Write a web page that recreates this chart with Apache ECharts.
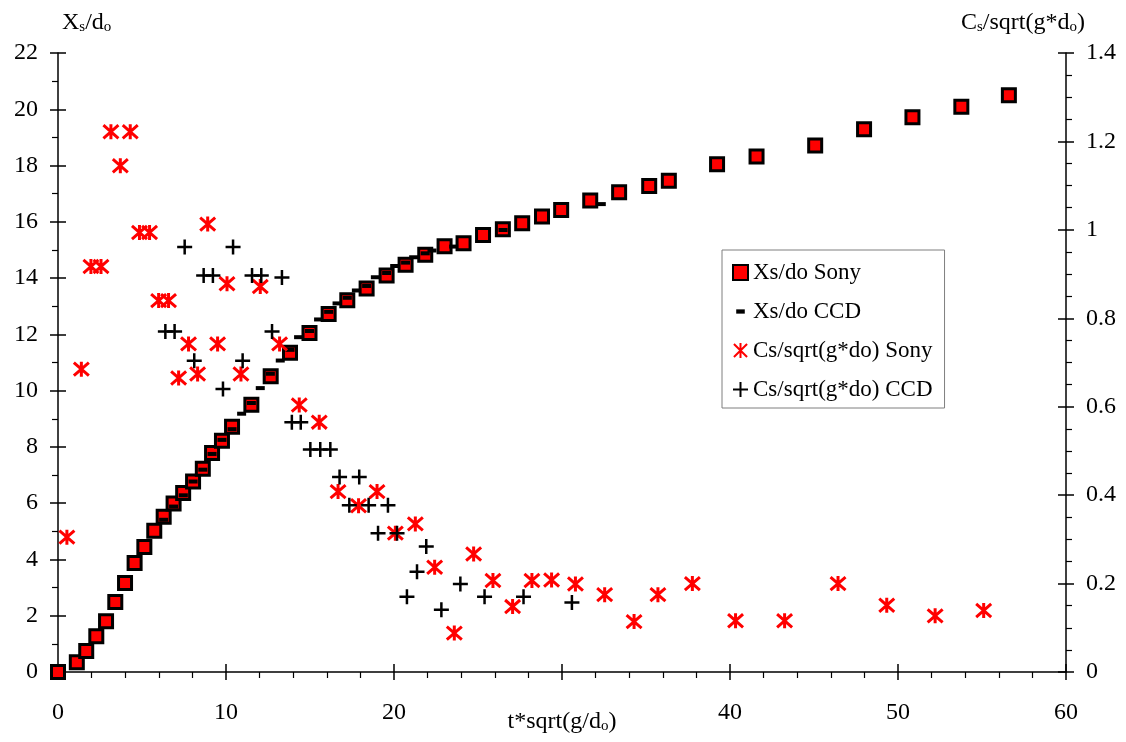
<!DOCTYPE html>
<html>
<head>
<meta charset="utf-8">
<script src="https://cdn.jsdelivr.net/npm/echarts@6/dist/echarts.min.js"></script>
<style>
html,body{margin:0;padding:0;background:#fff;}
#chart{width:1126px;height:742px;}
</style>
</head>
<body>
<div id="chart"></div>
<script>
// ---- data ----
const xsSonyT = [0, 1.12, 1.68, 2.28, 2.86, 3.41, 3.99, 4.56, 5.14, 5.73, 6.29, 6.88, 7.45, 8.04, 8.62, 9.17, 9.76, 10.36, 11.51, 12.66, 13.81, 14.97, 16.11, 17.22, 18.37, 19.56, 20.69, 21.86, 23.01, 24.14, 25.3, 26.48, 27.63, 28.81, 29.95, 31.68, 33.4, 35.19, 36.36, 39.23, 41.58, 45.07, 47.98, 50.86, 53.77, 56.6];
const xsSonyV = [0, 0.35, 0.75, 1.27, 1.8, 2.49, 3.16, 3.87, 4.44, 5.02, 5.52, 5.99, 6.36, 6.77, 7.22, 7.78, 8.22, 8.72, 9.5, 10.51, 11.35, 12.05, 12.72, 13.21, 13.63, 14.09, 14.47, 14.83, 15.13, 15.24, 15.53, 15.74, 15.95, 16.19, 16.42, 16.76, 17.05, 17.27, 17.46, 18.05, 18.32, 18.71, 19.29, 19.72, 20.09, 20.5];

const xsCcdT = [6.29, 6.88, 7.46, 8.04, 8.62, 9.17, 9.76, 10.36, 10.93, 11.51, 12.04, 12.64, 13.23, 13.81, 14.32, 14.97, 15.51, 16.11, 16.61, 17.22, 17.76, 18.37, 18.89, 19.56, 20.04, 20.69, 21.17, 21.86, 22.26, 23.55, 26.49, 32.34];
const xsCcdV = [5.41, 5.88, 6.28, 6.77, 7.19, 7.75, 8.25, 8.63, 9.18, 9.56, 10.09, 10.6, 11.07, 11.45, 11.9, 12.12, 12.53, 12.8, 13.1, 13.3, 13.56, 13.72, 14.03, 14.18, 14.43, 14.55, 14.74, 14.88, 14.98, 15.12, 15.71, 16.63];

const csSonyT = [0.53, 1.39, 1.96, 2.56, 3.15, 3.71, 4.30, 4.85, 5.45, 5.99, 6.58, 7.18, 7.77, 8.31, 8.91, 9.50, 10.06, 10.89, 12.04, 13.19, 14.36, 15.55, 16.67, 17.89, 18.99, 20.08, 21.27, 22.42, 23.59, 24.74, 25.89, 27.06, 28.21, 29.38, 30.8, 32.54, 34.29, 35.71, 37.76, 40.33, 43.25, 46.43, 49.33, 52.21, 55.1];
const csSonyV = [0.305, 0.685, 0.917, 0.917, 1.222, 1.145, 1.222, 0.994, 0.994, 0.840, 0.840, 0.665, 0.742, 0.674, 1.013, 0.742, 0.878, 0.674, 0.872, 0.742, 0.604, 0.565, 0.408, 0.376, 0.408, 0.314, 0.335, 0.237, 0.088, 0.267, 0.207, 0.148, 0.207, 0.208, 0.199, 0.175, 0.114, 0.175, 0.200, 0.116, 0.116, 0.200, 0.151, 0.127, 0.139];

const csCcdT = [6.39, 6.94, 7.54, 8.11, 8.67, 9.22, 9.82, 10.42, 10.99, 11.55, 12.10, 12.74, 13.33, 13.92, 14.45, 15.02, 15.61, 16.21, 16.76, 17.34, 17.93, 18.49, 19.05, 19.64, 20.18, 20.77, 21.37, 21.92, 22.82, 23.95, 25.39, 27.71, 30.59];
const csCcdV = [0.770, 0.770, 0.961, 0.704, 0.897, 0.897, 0.640, 0.961, 0.704, 0.897, 0.897, 0.770, 0.892, 0.565, 0.565, 0.503, 0.503, 0.503, 0.441, 0.377, 0.441, 0.377, 0.314, 0.377, 0.314, 0.170, 0.227, 0.284, 0.141, 0.199, 0.170, 0.170, 0.157];

const seriesNames = ['Xs/do Sony', 'Xs/do CCD', 'Cs/sqrt(g*do) Sony', 'Cs/sqrt(g*do) CCD'];
const xAxisTitle = '{n|t*sqrt(g/d}{s|o}{n|)}';
const yLeftTitle = '{n|X}{s|s}{n|/d}{s|o}';
const yRightTitle = '{n|C}{s|s}{n|/sqrt(g*d}{s|o}{n|)}';
const xRange = [0, 60, 10];
const xHiddenLabels = [30]; // covered by the axis title in the reference
const yLeftRange = [0, 22, 2];
const yRightRange = [0, 1.4, 0.2];

// ---- chart ----
const FONT = "'Liberation Serif', 'Times New Roman', serif";
const zip = (a, b) => a.map((v, i) => [v, b[i]]);
const richTitle = {
  n: { fontSize: 24, fontFamily: FONT, color: '#000', lineHeight: 24, verticalAlign: 'bottom' },
  s: { fontSize: 15, fontFamily: FONT, color: '#000', lineHeight: 10, verticalAlign: 'bottom' }
};
const ASTERISK = 'path://M0,0L14,14M14,0L0,14M7,-1L7,15';
const PLUS = 'path://M0,7L14,7M7,0L7,14';
const DASH_ICON = 'path://M0,0M14,14M3,5L11,5L11,9L3,9Z';

const lineStyle = { color: '#000', width: 1.5 };

function overlayAxis(base, pos) {
  return {
    type: 'value', position: pos, min: base[0], max: base[1], interval: base[2],
    axisLine: { show: false, onZero: false },
    axisTick: { show: true, inside: true, length: 8, lineStyle: lineStyle },
    minorTick: { show: false },
    axisLabel: { show: false },
    splitLine: { show: false }
  };
}

const chart = echarts.init(document.getElementById('chart'), null, { renderer: 'canvas' });
chart.setOption({
  backgroundColor: '#fff',
  animation: false,
  grid: { left: 58, right: 60, top: 53, bottom: 70, containLabel: false, outerBoundsMode: 'none' },
  legend: {
    orient: 'vertical',
    left: 722, top: 250,
    backgroundColor: '#fff',
    borderColor: '#7f7f7f', borderWidth: 1,
    padding: [10, 12, 6, 10],
    itemGap: 14, itemWidth: 15, itemHeight: 15,
    textStyle: { fontFamily: FONT, fontSize: 23, color: '#000', lineHeight: 25 },
    data: [
      { name: seriesNames[0], icon: 'rect' },
      { name: seriesNames[1], icon: DASH_ICON },
      { name: seriesNames[2], icon: ASTERISK },
      { name: seriesNames[3], icon: PLUS }
    ]
  },
  xAxis: [
    {
      type: 'value', position: 'bottom', min: xRange[0], max: xRange[1], interval: xRange[2],
      axisLine: { show: true, onZero: false, lineStyle: lineStyle },
      axisTick: { show: true, inside: false, length: 8, lineStyle: lineStyle },
      minorTick: { show: true, splitNumber: 5, length: 6, lineStyle: { color: '#000', width: 1.2 } },
      splitLine: { show: false },
      axisLabel: {
        fontFamily: FONT, fontSize: 24, color: '#000', margin: 29,
        formatter: v => (xHiddenLabels.indexOf(v) >= 0 ? '' : String(v))
      },
      name: xAxisTitle, nameLocation: 'middle', nameGap: 33, nameMoveOverlap: false,
      nameTextStyle: { rich: richTitle, padding: [5, 4, 2, 4] }
    },
    overlayAxis(xRange, 'bottom')
  ],
  yAxis: [
    {
      type: 'value', position: 'left', min: yLeftRange[0], max: yLeftRange[1], interval: yLeftRange[2],
      axisLine: { show: true, onZero: false, lineStyle: lineStyle },
      axisTick: { show: true, inside: false, length: 8, lineStyle: lineStyle },
      minorTick: { show: true, splitNumber: 2, length: 6, lineStyle: { color: '#000', width: 1.2 } },
      splitLine: { show: false },
      axisLabel: { fontFamily: FONT, fontSize: 24, color: '#000', margin: 20 },
      name: yLeftTitle, nameLocation: 'end', nameGap: 18, nameMoveOverlap: false,
      nameTextStyle: { rich: richTitle, align: 'left', verticalAlign: 'bottom', padding: [0, 0, 0, 4] }
    },
    {
      type: 'value', position: 'right', min: yRightRange[0], max: yRightRange[1], interval: yRightRange[2],
      axisLine: { show: true, onZero: false, lineStyle: lineStyle },
      axisTick: { show: true, inside: false, length: 8, lineStyle: lineStyle },
      minorTick: { show: true, splitNumber: 4, length: 6, lineStyle: { color: '#000', width: 1.2 } },
      splitLine: { show: false },
      axisLabel: { fontFamily: FONT, fontSize: 24, color: '#000', margin: 20 },
      name: yRightTitle, nameLocation: 'end', nameGap: 18, nameMoveOverlap: false,
      nameTextStyle: { rich: richTitle, align: 'right', verticalAlign: 'bottom', padding: [0, -19, 0, 0] }
    },
    overlayAxis(yLeftRange, 'left'),
    overlayAxis(yRightRange, 'right')
  ],
  series: [
    {
      name: seriesNames[0], type: 'scatter', xAxisIndex: 0, yAxisIndex: 0,
      symbol: 'rect', symbolSize: 13,
      itemStyle: { color: '#ff0000', borderColor: '#000', borderWidth: 3, opacity: 1 },
      data: zip(xsSonyT, xsSonyV), z: 2
    },
    {
      name: seriesNames[1], type: 'scatter', xAxisIndex: 0, yAxisIndex: 0,
      symbol: 'rect', symbolSize: [9, 4],
      itemStyle: { color: '#000', opacity: 1 },
      data: zip(xsCcdT, xsCcdV), z: 3
    },
    {
      name: seriesNames[2], type: 'scatter', xAxisIndex: 0, yAxisIndex: 1,
      symbol: ASTERISK, symbolSize: 15,
      itemStyle: { color: 'rgba(0,0,0,0)', borderColor: '#ff0000', borderWidth: 3, opacity: 1 },
      data: zip(csSonyT, csSonyV), z: 4
    },
    {
      name: seriesNames[3], type: 'scatter', xAxisIndex: 0, yAxisIndex: 1,
      symbol: PLUS, symbolSize: 15,
      itemStyle: { color: 'rgba(0,0,0,0)', borderColor: '#000', borderWidth: 2.5, opacity: 1 },
      data: zip(csCcdT, csCcdV), z: 5
    }
  ]
});
</script>
</body>
</html>
